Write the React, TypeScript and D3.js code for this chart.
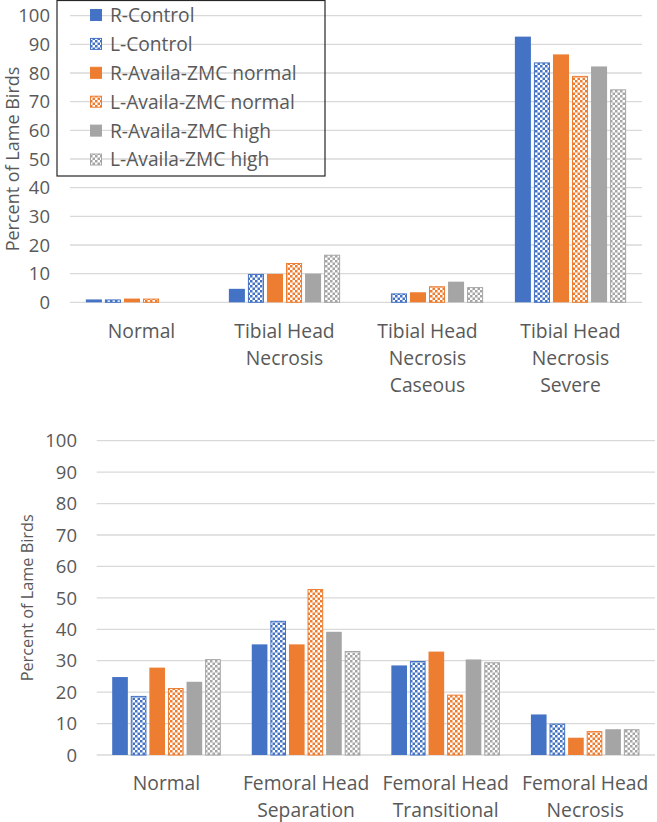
import React from "react";
import * as d3 from "d3";

const seriesNames = [
  "R-Control",
  "L-Control",
  "R-Availa-ZMC normal",
  "L-Availa-ZMC normal",
  "R-Availa-ZMC high",
  "L-Availa-ZMC high",
];
const seriesColors = ["#4472C4", "#4472C4", "#ED7D31", "#ED7D31", "#A5A5A5", "#A5A5A5"];
const seriesPatterned = [false, true, false, true, false, true];

const tibialCategories = [
  ["Normal"],
  ["Tibial Head", "Necrosis"],
  ["Tibial Head", "Necrosis", "Caseous"],
  ["Tibial Head", "Necrosis", "Severe"],
];
const tibialRControl = [1.0, 4.7, 0, 92.7];
const tibialLControl = [1.0, 9.9, 3.1, 83.7];
const tibialRNormal = [1.3, 9.9, 3.5, 86.5];
const tibialLNormal = [1.3, 13.7, 5.6, 79.0];
const tibialRHigh = [0, 10.0, 7.2, 82.3];
const tibialLHigh = [0, 16.6, 5.3, 74.3];

const femoralCategories = [
  ["Normal"],
  ["Femoral Head", "Separation"],
  ["Femoral Head", "Transitional"],
  ["Femoral Head", "Necrosis"],
];
const femoralRControl = [24.8, 35.2, 28.5, 12.9];
const femoralLControl = [18.8, 42.7, 29.9, 10.0];
const femoralRNormal = [27.8, 35.2, 32.9, 5.5];
const femoralLNormal = [21.3, 52.8, 19.2, 7.6];
const femoralRHigh = [23.3, 39.2, 30.4, 8.2];
const femoralLHigh = [30.5, 33.1, 29.5, 8.2];

const yTicks = [0, 10, 20, 30, 40, 50, 60, 70, 80, 90, 100];
const yTitle = "Percent of Lame Birds";

const FONT = "'Open Sans', 'Noto Sans', sans-serif";
const TEXT = "#595959";
const GRID = "#D9D9D9";

function patId(i: number) {
  return "pat" + i;
}

type ChartProps = {
  cats: string[][];
  values: number[][];
  x0: number;
  x1: number;
  yBottom: number;
  yTop: number;
  tickRight: number;
  titleX: number;
  titleSize: number;
  labelBaseline: number;
};

function Chart(p: ChartProps) {
  const catKeys = p.cats.map((c) => c.join(" "));
  const xc = d3.scaleBand<string>().domain(catKeys).range([p.x0, p.x1]).paddingInner(0.222).paddingOuter(0.111);
  const xs = d3
    .scaleBand<string>()
    .domain(seriesNames)
    .range([0, xc.bandwidth()])
    .paddingInner(0.158)
    .paddingOuter(0);
  const y = d3.scaleLinear().domain([0, 100]).range([p.yBottom, p.yTop]);
  const titleY = (p.yBottom + p.yTop) / 2;
  return (
    <g>
      {yTicks.map((t) => (
        <g key={t}>
          <line x1={p.x0} x2={p.x1} y1={y(t)} y2={y(t)} stroke={GRID} strokeWidth={1.3} />
          <text
            x={p.tickRight}
            y={y(t)}
            dy="0.36em"
            textAnchor="end"
            fontFamily={FONT}
            fontSize={18.5}
            fill={TEXT}
          >
            {t}
          </text>
        </g>
      ))}
      <text
        transform={`translate(${p.titleX},${titleY}) rotate(-90)`}
        textAnchor="middle"
        dy="0.36em"
        fontFamily={FONT}
        fontSize={p.titleSize}
        fill={TEXT}
      >
        {yTitle}
      </text>
      {catKeys.map((ck, ci) => (
        <g key={ck}>
          {seriesNames.map((s, si) => {
            const v = p.values[si][ci];
            if (v <= 0) return null;
            const bx = (xc(ck) as number) + (xs(s) as number);
            const bw = xs.bandwidth();
            const top = y(v);
            const h = y(0) - top;
            return seriesPatterned[si] ? (
              <rect
                key={s}
                x={bx + 0.5}
                y={top + 0.5}
                width={bw - 1}
                height={Math.max(h - 0.5, 0)}
                fill={`url(#${patId(si)})`}
                stroke={seriesColors[si]}
                strokeWidth={1}
              />
            ) : (
              <rect key={s} x={bx} y={top} width={bw} height={h} fill={seriesColors[si]} />
            );
          })}
          <text
            x={(xc(ck) as number) + xc.bandwidth() / 2}
            y={p.labelBaseline}
            textAnchor="middle"
            fontFamily={FONT}
            fontSize={19.3}
            fill={TEXT}
          >
            {p.cats[ci].map((line, li) => (
              <tspan key={li} x={(xc(ck) as number) + xc.bandwidth() / 2} dy={li === 0 ? 0 : 27}>
                {line}
              </tspan>
            ))}
          </text>
        </g>
      ))}
    </g>
  );
}

function Legend() {
  const ly = d3.scaleLinear().domain([0, 5]).range([15, 159.5]);
  return (
    <g>
      <rect x={57} y={0.5} width={268} height={175.5} fill="none" stroke="#262626" strokeWidth={1.2} />
      {seriesNames.map((s, i) => (
        <g key={s}>
          <rect
            x={90.5}
            y={ly(i) - 5.5}
            width={11}
            height={11}
            fill={seriesPatterned[i] ? `url(#${patId(i)})` : seriesColors[i]}
            stroke={seriesColors[i]}
            strokeWidth={1}
          />
          <text x={110} y={ly(i)} dy="0.36em" fontFamily={FONT} fontSize={19.2} fill={TEXT}>
            {s}
          </text>
        </g>
      ))}
    </g>
  );
}

export default function App() {
  const tibialValues = [tibialRControl, tibialLControl, tibialRNormal, tibialLNormal, tibialRHigh, tibialLHigh];
  const femoralValues = [
    femoralRControl,
    femoralLControl,
    femoralRNormal,
    femoralLNormal,
    femoralRHigh,
    femoralLHigh,
  ];
  const cell = 2.5;
  return (
    <svg
      width={657}
      height={822}
      style={{ position: "absolute", left: 0, top: 0, background: "#fff" }}
      xmlns="http://www.w3.org/2000/svg"
    >
      <defs>
        {seriesNames.map((s, i) =>
          seriesPatterned[i] ? (
            <pattern
              key={s}
              id={patId(i)}
              patternUnits="userSpaceOnUse"
              width={cell * 2}
              height={cell * 2}
            >
              <rect x={0} y={0} width={cell * 2} height={cell * 2} fill="#fff" />
              <rect x={0} y={0} width={cell} height={cell} fill={seriesColors[i]} />
              <rect x={cell} y={cell} width={cell} height={cell} fill={seriesColors[i]} />
            </pattern>
          ) : null
        )}
      </defs>
      <rect x={0} y={0} width={657} height={822} fill="#fff" />
      <Chart
        cats={tibialCategories}
        values={tibialValues}
        x0={70}
        x1={642}
        yBottom={302.3}
        yTop={15.7}
        tickRight={50}
        titleX={12.5}
        titleSize={18}
        labelBaseline={337.5}
      />
      <Chart
        cats={femoralCategories}
        values={femoralValues}
        x0={96.7}
        x1={655}
        yBottom={755}
        yTop={440.7}
        tickRight={77}
        titleX={27}
        titleSize={16.3}
        labelBaseline={790}
      />
      <Legend />
    </svg>
  );
}
